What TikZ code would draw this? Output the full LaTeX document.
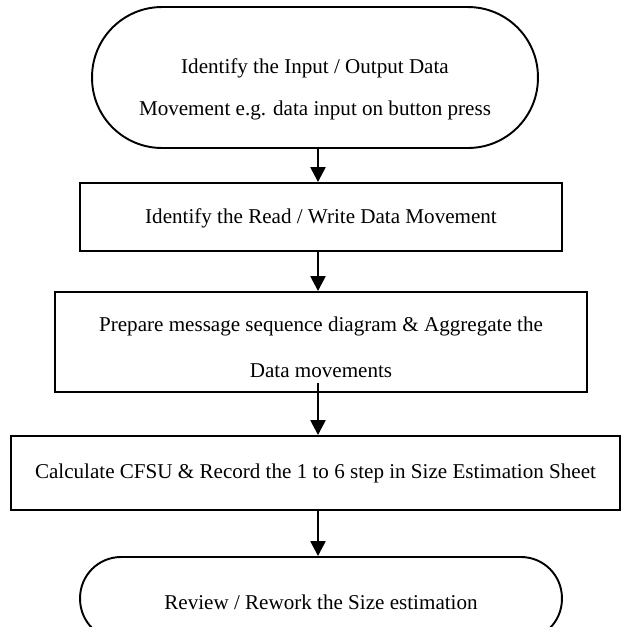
\documentclass[tikz,border=0pt]{standalone}
\usepackage{fontspec}
\setmainfont{Liberation Serif}
\usetikzlibrary{arrows.meta,calc}

\begin{document}
\begin{tikzpicture}[x=0.02cm,y=-0.02cm,font=\fontsize{12}{24}\selectfont,
  stepbox/.style={draw,line width=1.1pt,inner sep=0pt,align=center},
  flow/.style={-{Triangle[length=0.3cm,width=0.3cm]},line width=1.4pt}]
\path[use as bounding box,clip] (0,0) rectangle (621,627);
\coordinate (axis) at (318,0);
% terminals at top and bottom, process boxes in between
\node[stepbox,rounded corners=1.4cm,minimum width=8.92cm,minimum height=2.82cm] (io) at (315,77.5)
  {\rule{0pt}{22pt}Identify the Input / Output Data\\Movement e.g. data input on button press};
\node[stepbox,minimum width=9.64cm,minimum height=1.36cm] (rw) at (321,217)
  {\rule{0pt}{10.5pt}Identify the Read / Write Data Movement};
\node[stepbox,minimum width=10.64cm,minimum height=2cm] (msd) at (321,342)
  {\rule{0pt}{14pt}Prepare message sequence diagram \& Aggregate the\\[2pt]Data movements};
\node[stepbox,minimum width=12.18cm,minimum height=1.48cm] (cfsu) at (315.5,473)
  {Calculate CFSU \& Record the 1 to 6 step in Size Estimation Sheet};
\node[stepbox,rounded corners=0.82cm,minimum width=9.64cm,minimum height=1.66cm] (rev) at (321,598.5)
  {\rule{0pt}{13pt}Review / Rework the Size estimation};
% arrows all on one vertical line
\draw[flow] (io.south -| axis) -- (rw.north -| axis);
\draw[flow] (rw.south -| axis) -- (msd.north -| axis);
\draw[flow] ($(msd.south -| axis)+(0,-10)$) -- (cfsu.north -| axis);
\draw[flow] (cfsu.south -| axis) -- (rev.north -| axis);
\end{tikzpicture}
\end{document}
